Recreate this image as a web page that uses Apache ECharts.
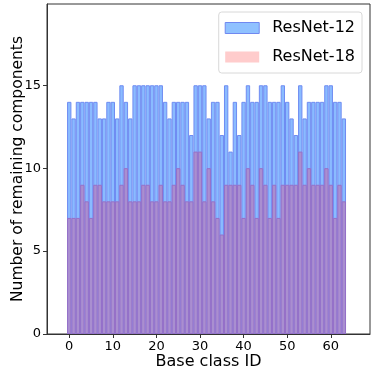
<!DOCTYPE html>
<html lang="en">
<head>
    <meta charset="UTF-8">
    <title>Remaining components per base class</title>
    <script src="https://cdn.jsdelivr.net/npm/echarts@6/dist/echarts.min.js"></script>
    <style>
        html, body { margin: 0; padding: 0; background: #fff; }
        #render-target { width: 382px; height: 382px; }
    </style>
</head>
<body>
    <div id="render-target"></div>
    <script>
        // base class ids 0..63
        const classIds = [
            0, 1, 2, 3, 4, 5, 6, 7, 8, 9, 10, 11, 12, 13, 14, 15,
            16, 17, 18, 19, 20, 21, 22, 23, 24, 25, 26, 27, 28, 29, 30, 31,
            32, 33, 34, 35, 36, 37, 38, 39, 40, 41, 42, 43, 44, 45, 46, 47,
            48, 49, 50, 51, 52, 53, 54, 55, 56, 57, 58, 59, 60, 61, 62, 63
        ]
        const resnet12 = [
            14, 13, 14, 14, 14, 14, 14, 13, 13, 14, 14, 13, 15, 14, 13, 15,
            15, 15, 15, 15, 15, 15, 14, 13, 14, 14, 14, 14, 12, 15, 15, 15,
            13, 14, 14, 12, 15, 11, 14, 12, 14, 15, 14, 14, 15, 15, 14, 14,
            14, 15, 14, 13, 12, 15, 13, 14, 14, 14, 14, 15, 15, 14, 14, 13
        ]
        const resnet18 = [
            7, 7, 7, 9, 8, 7, 9, 9, 8, 8, 8, 8, 9, 10, 8, 8,
            8, 9, 9, 8, 8, 9, 8, 8, 9, 10, 9, 8, 8, 11, 11, 8,
            10, 8, 7, 6, 9, 9, 9, 9, 7, 10, 9, 7, 10, 9, 7, 9,
            7, 9, 9, 9, 9, 11, 9, 10, 9, 9, 9, 10, 9, 7, 9, 8
        ]
        const xTicks = [0, 10, 20, 30, 40, 50, 60]
        const yTicks = [0, 5, 10, 15]

        const font = "DejaVu Sans"
        const pairs = (ys) => classIds.map((x, i) => [x, ys[i]])

        const chart = echarts.init(document.querySelector("#render-target"), null, { renderer: "canvas" })
        chart.setOption({
            animation: false,
            textStyle: { fontFamily: font, color: "#000" },
            grid: {
                left: 47, right: 12, top: 4, bottom: 48,
                outerBoundsMode: "none",
                show: true, borderColor: "#333", borderWidth: 1
            },
            legend: {
                orient: "vertical",
                right: 20, top: 12,
                itemWidth: 34, itemHeight: 11, itemGap: 13,
                padding: [8, 7, 8, 6],
                borderColor: "#d8d8d8", borderWidth: 1, borderRadius: 3,
                backgroundColor: "#fff",
                textStyle: { fontFamily: font, fontSize: 16, color: "#000", padding: [0, 0, 0, 8] },
                data: [
                    { name: "ResNet-12", icon: "rect", itemStyle: { color: "#8fc1ff", borderColor: "#7088f0", borderWidth: 1 } },
                    { name: "ResNet-18", icon: "rect", itemStyle: { color: "#ffcccc", borderWidth: 0 } }
                ]
            },
            xAxis: {
                type: "value",
                min: -5.1, max: 69,
                name: "Base class ID",
                nameLocation: "middle",
                nameGap: 20,
                nameMoveOverlap: false,
                nameTextStyle: { fontFamily: font, fontSize: 16, color: "#000", verticalAlign: "top" },
                axisLine: { onZero: false, lineStyle: { color: "#333" } },
                axisTick: { show: true, customValues: xTicks, length: 4, lineStyle: { color: "#333" } },
                axisLabel: { customValues: xTicks, fontFamily: font, fontSize: 13, color: "#000", margin: 6 },
                splitLine: { show: false }
            },
            yAxis: {
                type: "value",
                min: 0, max: 19.9, interval: 5,
                name: "Number of remaining components",
                nameLocation: "middle",
                nameGap: 21,
                nameMoveOverlap: false,
                nameTextStyle: { fontFamily: font, fontSize: 15.5, color: "#000" },
                axisLine: { show: true, onZero: false, lineStyle: { color: "#333" } },
                axisTick: { show: true, customValues: yTicks, length: 4, lineStyle: { color: "#333" } },
                axisLabel: { customValues: yTicks, fontFamily: font, fontSize: 13, color: "#000", margin: 6 },
                splitLine: { show: false }
            },
            series: [
                {
                    name: "ResNet-12",
                    type: "bar",
                    data: pairs(resnet12),
                    barWidth: "100%",
                    barGap: "-100%",
                    itemStyle: { color: "#8abbff", borderColor: "#6f8cf2", borderWidth: 1 }
                },
                {
                    name: "ResNet-18",
                    type: "bar",
                    data: pairs(resnet18),
                    barWidth: "100%",
                    barGap: "-100%",
                    itemStyle: { color: "#a98fd0", borderColor: "#9670c8", borderWidth: 1 }
                }
            ]
        })
    </script>
</body>
</html>
